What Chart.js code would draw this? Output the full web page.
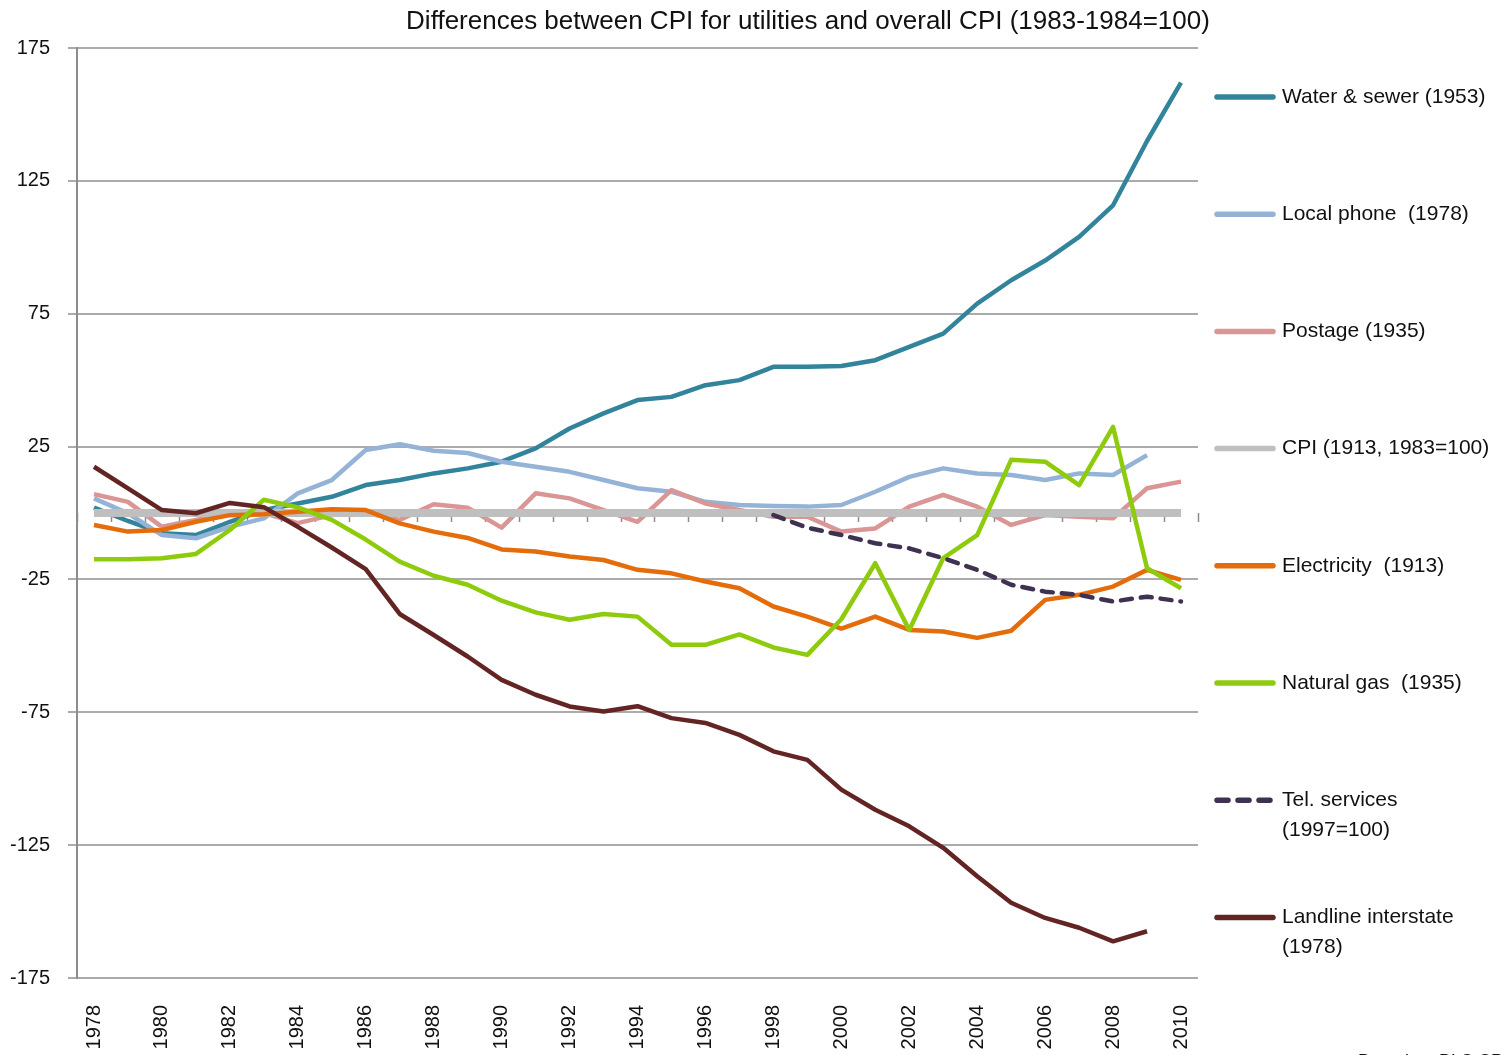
<!DOCTYPE html>
<html>
<head>
<meta charset="utf-8">
<title>Differences between CPI for utilities and overall CPI</title>
<script src="https://cdn.jsdelivr.net/npm/chart.js@4/dist/chart.umd.min.js"></script>
<style>
  html, body { margin: 0; padding: 0; background: #fff; overflow: hidden; }
  canvas { display: block; }
</style>
</head>
<body>
<canvas id="cpiChart" width="1503" height="1055"></canvas>
<script>
const years = [];
for (let y = 1978; y <= 2010; y++) years.push(String(y));

const yTicks = [-175, -125, -75, -25, 25, 75, 125, 175];

// values (difference vs. overall CPI)
const waterSewer = [2, -3, -7.6, -8.3, -3.3, 1.1, 3.6, 6.1, 10.5, 12.4, 14.9, 16.8, 19.3, 24.3, 31.8, 37.5, 42.5, 43.7, 48.1, 50, 55, 55, 55.3, 57.5, 62.5, 67.5, 78.8, 87.6, 95, 103.9, 115.8, 140, 162];
const localPhone = [5.5, -0.1, -8.3, -9.5, -5.2, -2, 7.4, 12.4, 23.7, 25.9, 23.4, 22.6, 19.3, 17.4, 15.5, 12.4, 9.3, 8, 4.2, 3, 2.6, 2.4, 3, 8, 13.6, 16.8, 14.9, 14.3, 12.4, 14.9, 14.3, 21.8, null];
const postage = [7.1, 4.2, -5.2, -2.6, 0, 0, -3.8, -0.8, 0, -2.6, 3.3, 2, -5.5, 7.4, 5.5, 1.1, -3.3, 8.6, 3.6, 1.1, -1.4, -1.4, -7, -5.8, 2.4, 6.8, 2.4, -4.5, -0.8, -1.4, -2, 9.3, 11.8];
const cpi = years.map(() => 0);
const electricity = [-4.5, -7, -6.4, -3.3, -0.8, -0.5, 0.5, 1.4, 1.1, -3.9, -7, -9.4, -13.7, -14.5, -16.4, -17.7, -21.4, -22.7, -25.8, -28.3, -35.2, -39, -43.5, -39, -44, -44.6, -47, -44.3, -32.7, -30.8, -27.7, -21.4, -25.2];
const naturalGas = [-17.4, -17.4, -17, -15.4, -6.4, 5, 2.1, -2.6, -10, -18.3, -23.6, -27, -33, -37.4, -40.2, -38, -39, -49.6, -49.6, -45.7, -50.6, -53.4, -40, -18.9, -44, -17, -8.3, 20, 19.3, 10.5, 32.4, -20.8, -28.3];
const telServices = [null, null, null, null, null, null, null, null, null, null, null, null, null, null, null, null, null, null, null, null, -0.8, -5.5, -8.3, -11.4, -13.3, -17, -21.4, -27, -29.6, -30.8, -33.3, -31.5, -33.3];
const landline = [17.4, 9.3, 1.1, -0.1, 3.8, 2.2, -5.2, -13, -21.1, -38, -45.9, -54, -62.8, -68.4, -72.8, -74.7, -72.7, -77.2, -79, -83.5, -89.7, -92.9, -104.1, -111.7, -117.9, -126, -136.7, -146.7, -152.4, -156.1, -161.2, -157.4, null];

const seriesLabels = [
  ['Water & sewer (1953)'],
  ['Local phone  (1978)'],
  ['Postage (1935)'],
  ['CPI (1913, 1983=100)'],
  ['Electricity  (1913)'],
  ['Natural gas  (1935)'],
  ['Tel. services', '(1997=100)'],
  ['Landline interstate', '(1978)']
];
const seriesData = [waterSewer, localPhone, postage, cpi, electricity, naturalGas, telServices, landline];
const seriesColors = ['#31849B', '#95B3D7', '#D99694', '#BFBFBF', '#E46C0A', '#8DCB0C', '#3F3151', '#632523'];
const seriesWidths = [4.5, 4.5, 4.5, 8, 4.5, 4.5, 4.5, 4.5];

const chartTitle = 'Differences between CPI for utilities and overall CPI (1983-1984=100)';
const sourceNote = 'Based on BLS CPI data';

const FONT = '"Liberation Sans", Arial, sans-serif';

const datasets = seriesData.map((data, i) => ({
  label: seriesLabels[i].join(' '),
  data: data,
  borderColor: seriesColors[i],
  backgroundColor: seriesColors[i],
  borderWidth: seriesWidths[i],
  borderDash: i === 6 ? [11, 9] : [],
  borderCapStyle: i === 6 ? 'round' : 'butt',
  borderJoinStyle: 'round',
  pointRadius: 0,
  tension: 0,
  spanGaps: false,
  order: seriesData.length - i   // later series drawn on top, like Excel
}));

// title, small ticks on the zero line, legend on the right
const extras = {
  id: 'extras',
  beforeDatasetsDraw(chart) {
    const ctx = chart.ctx;
    const x = chart.scales.x;
    const y0 = chart.scales.y.getPixelForValue(0);
    ctx.save();
    ctx.strokeStyle = '#8c8c8c';
    ctx.lineWidth = 1.5;
    for (let i = 0; i <= years.length; i++) {
      const px = Math.round(x.getPixelForValue(i - 0.5)) + 0.5;
      ctx.beginPath();
      ctx.moveTo(px, y0);
      ctx.lineTo(px, y0 + 9);
      ctx.stroke();
    }
    ctx.restore();
  },
  afterDraw(chart) {
    const ctx = chart.ctx;
    ctx.save();
    ctx.fillStyle = '#111';
    ctx.font = '26px ' + FONT;
    ctx.textAlign = 'center';
    ctx.textBaseline = 'middle';
    ctx.fillText(chartTitle, 808, 22);

    // legend
    ctx.textAlign = 'left';
    ctx.font = '21px ' + FONT;
    seriesLabels.forEach((lines, i) => {
      const cy = 97 + i * 117.2;
      ctx.beginPath();
      ctx.strokeStyle = seriesColors[i];
      ctx.lineWidth = 5.5;
      ctx.lineCap = 'round';
      if (i === 6) ctx.setLineDash([11, 10]); else ctx.setLineDash([]);
      ctx.moveTo(1217, cy);
      ctx.lineTo(1273, cy);
      ctx.stroke();
      ctx.setLineDash([]);
      lines.forEach((t, k) => ctx.fillText(t, 1282, cy + k * 30));
    });

    ctx.font = '18px ' + FONT;
    ctx.fillText(sourceNote, 1358, 1062);
    ctx.restore();
  }
};

const ctx = document.getElementById('cpiChart').getContext('2d');
new Chart(ctx, {
  type: 'line',
  data: { labels: years, datasets: datasets },
  options: {
    responsive: false,
    animation: false,
    layout: { padding: { top: 48, right: 305, bottom: 0, left: 0 } },
    plugins: {
      legend: { display: false },
      title: { display: false },
      tooltip: { enabled: false }
    },
    scales: {
      x: {
        offset: true,
        grid: { display: false, drawTicks: false },
        border: { display: false },
        ticks: {
          autoSkip: false,
          minRotation: 90,
          maxRotation: 90,
          padding: 27,
          color: '#111',
          font: { family: FONT, size: 20 },
          callback: (v, i) => (i % 2 === 0 ? years[i] : '')
        },
        afterFit: s => { s.height = 77; }
      },
      y: {
        min: -175,
        max: 175,
        afterBuildTicks: s => { s.ticks = yTicks.map(v => ({ value: v })); },
        grid: { color: '#ababab', lineWidth: 2, tickLength: 9, drawTicks: true },
        border: { display: true, color: '#8c8c8c', width: 2 },
        ticks: {
          padding: 18,
          color: '#111',
          font: { family: FONT, size: 20 }
        },
        afterFit: s => { s.width = 77; }
      }
    }
  },
  plugins: [extras]
});
</script>
</body>
</html>
